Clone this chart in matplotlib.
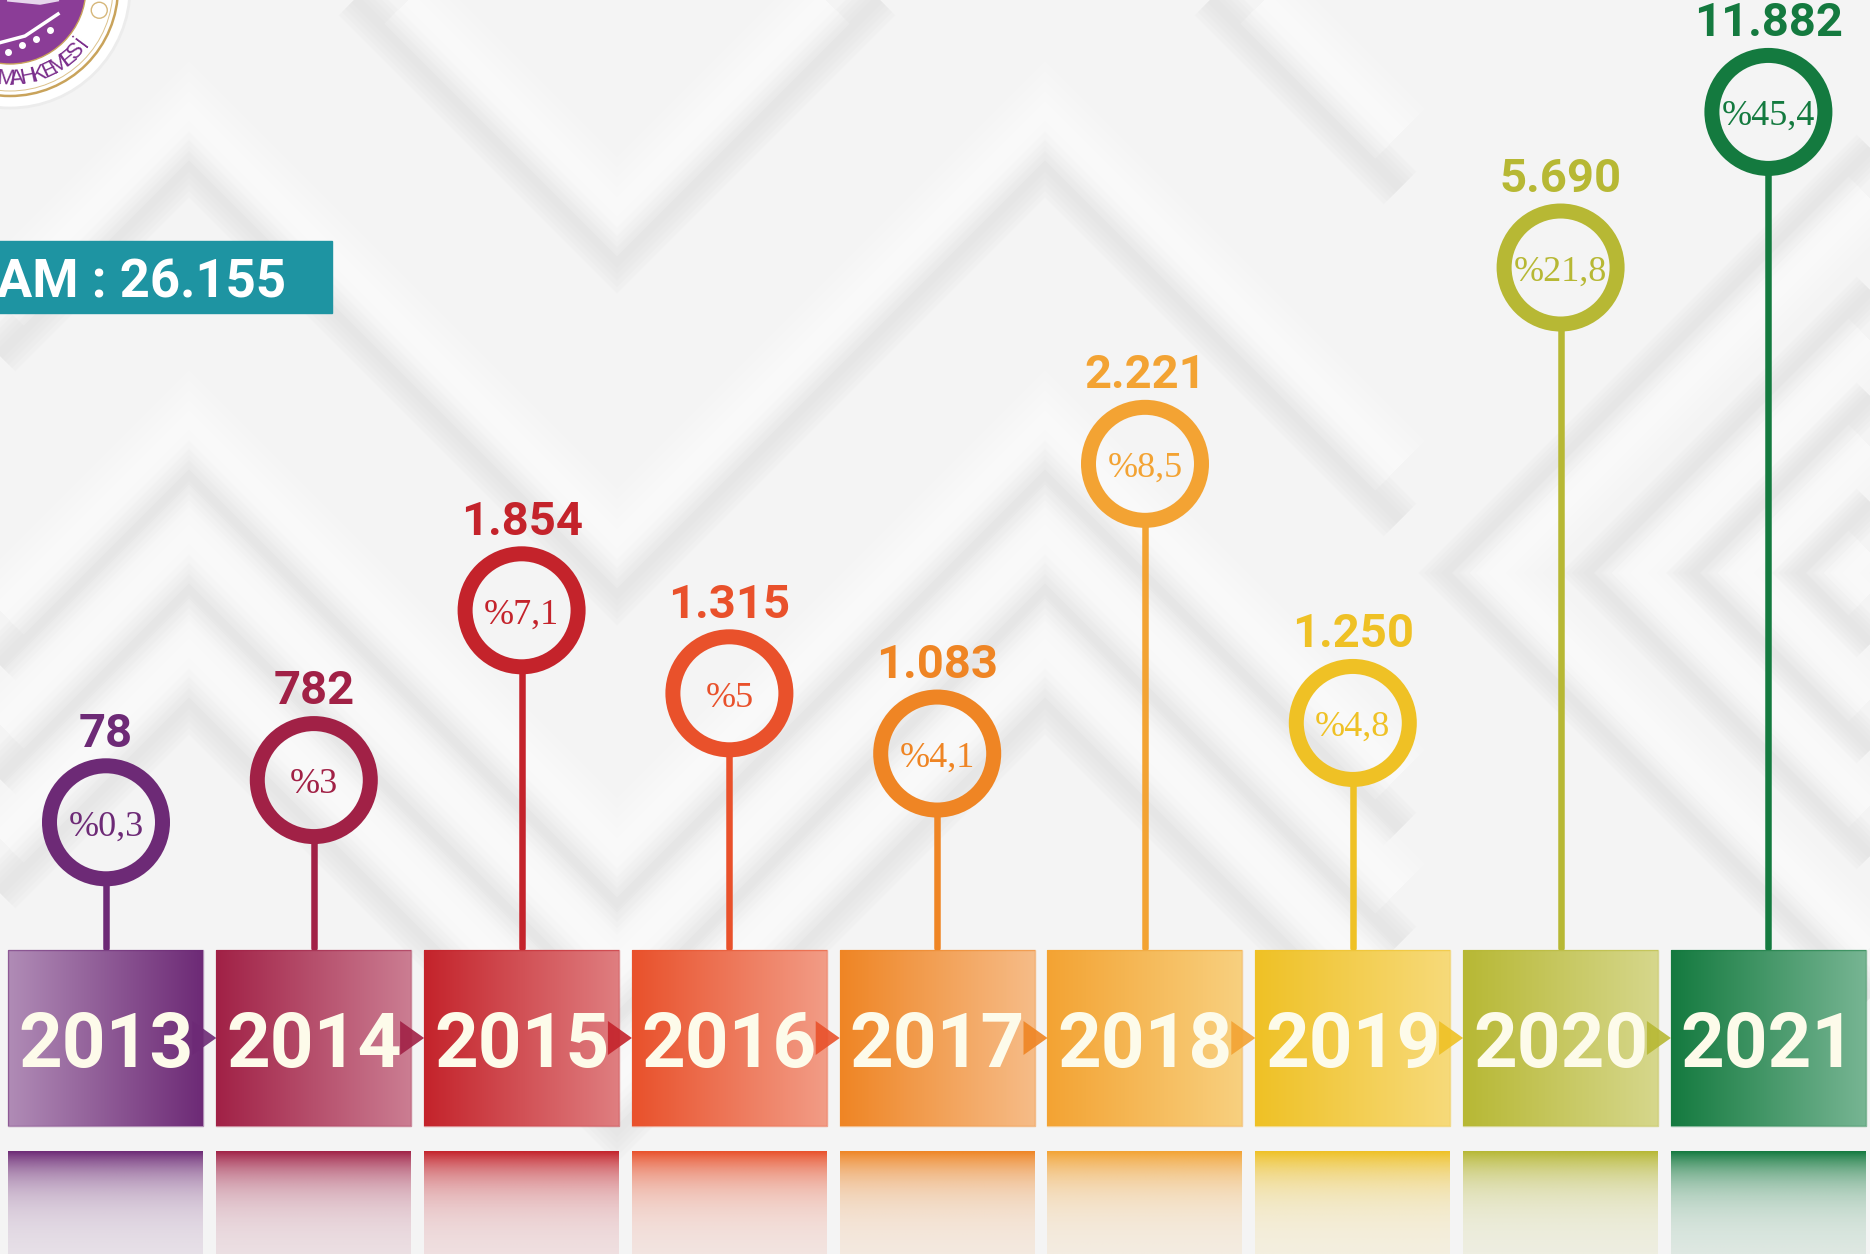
import numpy as np
import matplotlib
matplotlib.use("Agg")
import matplotlib.pyplot as plt
from matplotlib.patches import Rectangle, Circle, Polygon
from matplotlib.colors import LinearSegmentedColormap, to_rgb

# ---------------- data ----------------
years = [2013, 2014, 2015, 2016, 2017, 2018, 2019, 2020, 2021]
values = [78, 782, 1854, 1315, 1083, 2221, 1250, 5690, 11882]
percents = [0.3, 3, 7.1, 5, 4.1, 8.5, 4.8, 21.8, 45.4]
year_labels = [str(y) for y in years]
total_label = "TOPLAM"
logo_text = "MAHKEMESİ"

# infographic's non-linear value axis (value -> fraction of the drawing height)
scale_values = [-2000, 0, 800, 1100, 1250, 1320, 1850, 2200, 5700, 12000, 20000]
scale_fracs = [0, 0.1295, 0.18, 0.2084, 0.239, 0.2726, 0.3558, 0.5105, 0.719, 0.8853, 1.0]

# ---------------- styles ----------------
base_colors = ['#6d2a76', '#a12146', '#c4232b', '#e9512b', '#ef8524',
               '#f3a333', '#efc125', '#b7b834', '#147a3f']
light_colors = ['#b08cb6', '#cb7d92', '#df7e80', '#f29c86', '#f6bc88',
                '#f8d07f', '#f7da7a', '#d6d78c', '#77b593']
light_on_left = [True, False, False, False, False, False, False, False, False]

W, H = 1870, 1254
BG = '#f4f4f4'
CREAM = '#fdfbea'
BOLD_FONT = ['Roboto', 'DejaVu Sans']
SERIF_FONT = ['Liberation Serif', 'DejaVu Serif']

fig = plt.figure(figsize=(W / 100, H / 100), dpi=100)

# ---------------- background (pixel coords, y down) ----------------
bg = fig.add_axes([0, 0, 1, 1])
bg.set_xlim(0, W)
bg.set_ylim(H, 0)
bg.axis('off')
bg.add_patch(Rectangle((0, 0), W, H, color=BG, zorder=0))

def soft_band(xs, ys, width, color, alpha, z=1):
    for f in [1.0, 0.8, 0.6, 0.4, 0.2]:
        bg.plot(xs, ys, lw=width * f * 0.72, color=color, alpha=alpha * 0.16,
                solid_joinstyle='miter', solid_capstyle='butt', zorder=z)

# zig-zag chevrons (Λ near x=189, V near x=617, Λ near x=1045)
for ay in [-209, 123, 432, 546, 660]:
    xs = np.array([-400, 189, 617, 1045, 1400])
    ys = np.array([ay + 589, ay, ay + 428, ay, ay + 355])
    soft_band(xs, ys + 42, 46, '#e0e0e0', 1.0)
    soft_band(xs, ys - 12, 70, 'white', 1.0)

# left-pointing chevrons on the right side
for ax_ in [1473, 1615, 1721, 1827]:
    xs = np.array([ax_ + 800, ax_, ax_ + 800])
    ys = np.array([573 - 800, 573, 573 + 800])
    soft_band(xs - 26, ys, 40, '#dfdfdf', 1.0)
    soft_band(xs + 24, ys, 64, 'white', 1.0)

# logo (partially visible in the corner)
lc = (10, -12)
bg.add_patch(Circle(lc, 120, facecolor='white', edgecolor='#ececec', lw=2, zorder=4))
bg.add_patch(Circle(lc, 108, facecolor='none', edgecolor='#c9a35b', lw=1.8, zorder=5))
bg.add_patch(Circle(lc, 103, facecolor='none', edgecolor='#dcc28c', lw=0.7, zorder=5))
bg.add_patch(Circle(lc, 76, facecolor='#8b3d97', edgecolor='#c9a35b', lw=1.0, zorder=5))
bg.plot([-5, 25, 58], [44, 36, 14], color='white', lw=2.5, zorder=6)
bg.plot([8, 22, 36, 50], [52, 45, 39, 30], color='white', lw=0, marker='o', ms=4, zorder=6)
bg.plot([0, 40, 72], [-2, 2, -4], color='#e6d6ec', lw=4, zorder=6)
phi0, dphi = 92.5, 7.0
for i, ch in enumerate(logo_text):
    phi = np.deg2rad(phi0 - dphi * i)
    px = lc[0] + 91 * np.cos(phi)
    py = lc[1] + 91 * np.sin(phi)
    bg.text(px, py, ch, rotation=90 - np.rad2deg(phi), rotation_mode='anchor',
            ha='center', va='center', fontsize=16, color='#7b2f8c',
            family=['Liberation Sans', 'DejaVu Sans'], zorder=7)
for phi_d in [14, -3]:
    phi = np.deg2rad(phi_d)
    bg.add_patch(Circle((lc[0] + 92 * np.cos(phi), lc[1] + 92 * np.sin(phi)), 8,
                        facecolor='none', edgecolor='#d6b77a', lw=1.0, zorder=6))

# total box
total = sum(values)
bg.add_patch(Rectangle((-10, 241), 342, 72, color='#1e94a2', zorder=4))
bg.text(286, 297, f"{total_label} : {total:,}".replace(',', '.'), ha='right', va='baseline',
        fontsize=38, fontweight='bold', color='white', family=BOLD_FONT, zorder=5)

# ---------------- year boxes ----------------
X0, DX = 106.0, 207.8
xlim = (years[0] - X0 / DX, years[0] + (W - X0) / DX)
hw = 97.5 / DX
box_top, box_bot = 950, 1126
refl_top = 1151

ax = fig.add_axes([0, 0, 1, 1])
ax.patch.set_alpha(0)
ax.axis('off')

grad = np.linspace(0, 1, 256)[None, :]
tv = np.linspace(0, 1, 200)[:, None]
for i, yr in enumerate(years):
    cl, cr = (light_colors[i], base_colors[i]) if light_on_left[i] else (base_colors[i], light_colors[i])
    cmap = LinearSegmentedColormap.from_list(f'g{i}', [cl, cr])
    ax.imshow(grad, extent=(yr - hw, yr + hw, box_bot, box_top), aspect='auto',
              cmap=cmap, interpolation='bilinear', zorder=2)
    ax.add_patch(Rectangle((yr - hw, box_top), 2 * hw, box_bot - box_top, facecolor='none',
                           edgecolor=base_colors[i], lw=1.0, alpha=0.5, zorder=3))
    ax.text(yr, 1067, year_labels[i], ha='center', va='baseline', fontsize=55,
            fontweight='bold', color=CREAM, family=BOLD_FONT, zorder=5)
    # reflection
    rgb = np.array(to_rgb(base_colors[i]))
    alpha = 0.07 + 0.93 * np.exp(-3.6 * tv)
    img = np.zeros((200, 1, 4))
    img[:, 0, :3] = rgb
    img[:, 0, 3] = alpha[:, 0]
    ax.imshow(img, extent=(yr - hw, yr + hw, H + 5, refl_top), aspect='auto',
              interpolation='bilinear', zorder=2)
    # arrow to next box
    if i < len(years) - 1:
        tip = years[i + 1] - hw
        aw = 24 / DX
        ax.add_patch(Polygon([(tip - aw, 1038 - 17), (tip, 1038), (tip - aw, 1038 + 17)],
                             closed=True, facecolor=base_colors[i], edgecolor='none',
                             alpha=0.9, zorder=4))
ax.set_xlim(xlim)
ax.set_ylim(H, 0)

# ---------------- lollipops ----------------
def fwd(v):
    return np.interp(v, scale_values, scale_fracs)

def inv(f):
    return np.interp(f, scale_fracs, scale_values)

lax = fig.add_axes([0, (H - box_top) / H, 1, box_top / H])
lax.patch.set_alpha(0)
lax.axis('off')
lax.set_xlim(xlim)
lax.set_yscale('function', functions=(fwd, inv))
lax.set_ylim(scale_values[0], scale_values[-1])

ring_px = 113
lax.scatter(years, values, s=(ring_px * 0.72) ** 2, facecolors='none',
            edgecolors=base_colors, linewidths=15 * 0.72, zorder=4)

# stems from box top to ring bottom
pts = lax.transData.transform(np.column_stack([years, values]))
pts[:, 1] -= 60
bottoms = lax.transData.inverted().transform(pts)[:, 1]
for i, yr in enumerate(years):
    lax.plot([yr, yr], [scale_values[0] + 30, bottoms[i]], color=base_colors[i],
             lw=6.5 * 0.72, solid_capstyle='round', zorder=3)

for i, (yr, v) in enumerate(zip(years, values)):
    lax.annotate(f"{v:,}".replace(',', '.'), (yr, v), xytext=(0, 54.5), textcoords='offset points',
                 ha='center', va='baseline', fontsize=34, fontweight='bold',
                 color=base_colors[i], family=BOLD_FONT, zorder=5)
    p = percents[i]
    ptxt = ("%" + (f"{p:.1f}".replace('.', ',') if p != int(p) else f"{int(p)}"))
    lax.annotate(ptxt, (yr, v), xytext=(0, -9.5), textcoords='offset points',
                 ha='center', va='baseline', fontsize=26, color=base_colors[i],
                 family=SERIF_FONT, zorder=5)

fig.savefig('out.png', dpi=100)
